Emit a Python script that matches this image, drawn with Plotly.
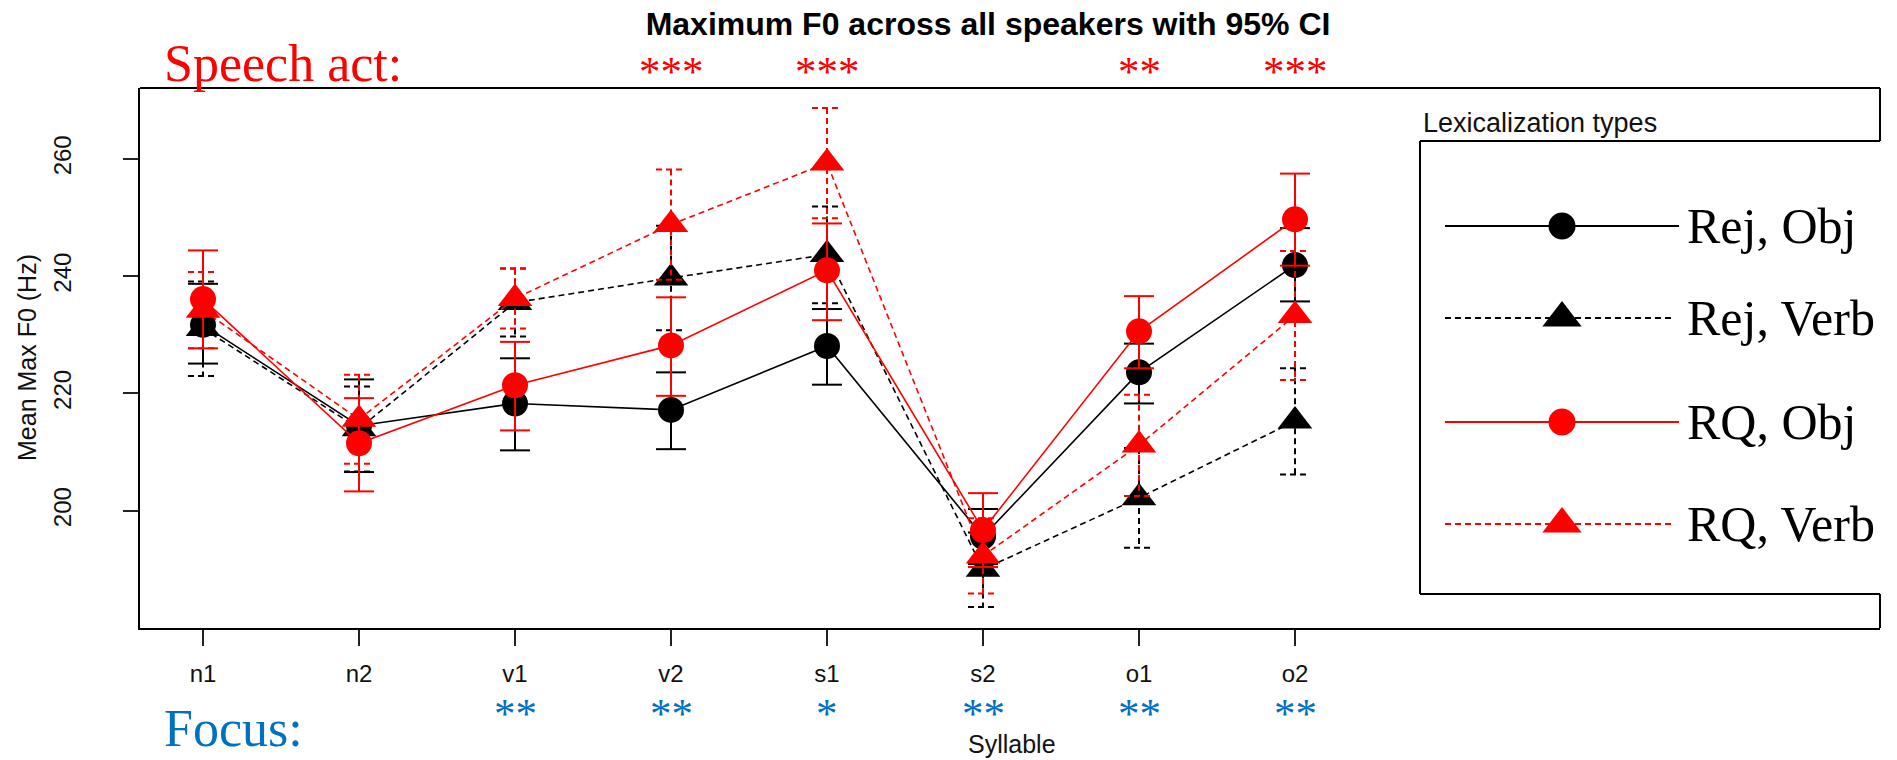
import plotly.graph_objects as go

# ---------------- data ----------------
syllables = ["n1", "n2", "v1", "v2", "s1", "s2", "o1", "o2"]
series_names = ["Rej, Obj", "Rej, Verb", "RQ, Obj", "RQ, Verb"]

rej_obj_mean = [231.7, 214.5, 218.3, 217.2, 228.1, 195.6, 223.6, 241.9]
rej_obj_lo = [225.1, 206.6, 210.3, 210.5, 221.5, 190.9, 218.3, 235.7]
rej_obj_hi = [238.7, 222.4, 226.0, 223.6, 234.4, 200.3, 228.5, 248.2]

rej_verb_mean = [231.1, 214.0, 235.5, 239.7, 243.7, 190.0, 202.2, 215.3]
rej_verb_lo = [223.0, 206.7, 229.7, 230.8, 235.4, 183.6, 193.7, 206.2]
rej_verb_hi = [239.1, 221.2, 241.3, 248.6, 251.9, 196.3, 210.7, 224.3]

rq_obj_mean = [236.1, 211.5, 221.4, 228.2, 241.0, 196.7, 230.6, 249.7]
rq_obj_lo = [227.7, 203.3, 213.7, 219.6, 232.5, 190.4, 224.3, 241.8]
rq_obj_hi = [244.4, 219.2, 228.8, 236.4, 249.0, 203.0, 236.6, 257.5]

rq_verb_mean = [234.2, 215.6, 236.2, 248.8, 259.3, 192.3, 211.2, 233.3]
rq_verb_lo = [227.7, 208.0, 231.1, 239.4, 249.9, 185.9, 202.5, 222.3]
rq_verb_hi = [240.7, 223.2, 241.3, 258.2, 268.7, 198.7, 219.8, 244.3]

y_ticks = [200, 220, 240, 260]
speech_act_stars = ["", "", "", "***", "***", "", "**", "***"]
focus_stars = ["", "", "**", "**", "*", "**", "**", "**"]

# ---------------- layout geometry (pixels) ----------------
W, H = 1897, 760
L, R, T, B = 140, 1880, 88, 628
TICK_STEP = 156.0
FIRST_TICK = 203
x_lo = 1 - (FIRST_TICK - L) / TICK_STEP
x_hi = x_lo + (R - L) / TICK_STEP
y_range = [180.0, 272.1]


def px(x):
    return (x - L) / (R - L)


def py(y):
    return (B - y) / (B - T)


SANS = "Liberation Sans, Arial, sans-serif"
SERIF = "Liberation Serif, Times New Roman, serif"
RED = "#FF0000"
BLUE = "#0070C0"

x_pos = list(range(1, len(syllables) + 1))
cap_hw = 15 / TICK_STEP


def errbar_xy(xs, lo, hi, hw):
    X, Y = [], []
    for x, l, h in zip(xs, lo, hi):
        X += [x - hw, x + hw, None, x, x, None, x - hw, x + hw, None]
        Y += [h, h, None, h, l, None, l, l, None]
    return X, Y


series = [
    dict(name="Rej, Obj", mean=rej_obj_mean, lo=rej_obj_lo, hi=rej_obj_hi,
         color="black", dash="solid", symbol="circle", size=26),
    dict(name="Rej, Verb", mean=rej_verb_mean, lo=rej_verb_lo, hi=rej_verb_hi,
         color="black", dash="6px,4px", symbol="triangle-up", size=30),
    dict(name="RQ, Verb", mean=rq_verb_mean, lo=rq_verb_lo, hi=rq_verb_hi,
         color=RED, dash="6px,4px", symbol="triangle-up", size=30),
    dict(name="RQ, Obj", mean=rq_obj_mean, lo=rq_obj_lo, hi=rq_obj_hi,
         color=RED, dash="solid", symbol="circle", size=26),
]

fig = go.Figure()

for s in series:
    ex, ey = errbar_xy(x_pos, s["lo"], s["hi"], cap_hw)
    fig.add_trace(go.Scatter(
        x=ex, y=ey, mode="lines", showlegend=False, hoverinfo="skip",
        line=dict(color=s["color"], width=2, dash=s["dash"])))
    fig.add_trace(go.Scatter(
        x=x_pos, y=s["mean"], mode="lines+markers", name=s["name"], showlegend=False,
        line=dict(color=s["color"], width=1.6, dash=s["dash"]),
        marker=dict(symbol=s["symbol"], size=s["size"], color=s["color"], line=dict(width=0))))

# ---------------- legend drawn on an overlay axis in pixel units ----------------
legend_order = ["Rej, Obj", "Rej, Verb", "RQ, Obj", "RQ, Verb"]
legend_rows_y = [226, 318, 422, 524]
style = {s["name"]: s for s in series}
for name, ly in zip(legend_order, legend_rows_y):
    s = style[name]
    x_end = 1679 if s["dash"] == "solid" else 1673
    fig.add_trace(go.Scatter(
        x=[1445, x_end], y=[ly, ly], mode="lines", xaxis="x2", yaxis="y2",
        showlegend=False, hoverinfo="skip",
        line=dict(color=s["color"], width=2, dash=s["dash"])))
    fig.add_trace(go.Scatter(
        x=[1562], y=[ly], mode="markers", xaxis="x2", yaxis="y2",
        showlegend=False, hoverinfo="skip",
        marker=dict(symbol=s["symbol"], size=27 if s["symbol"] == "circle" else 34,
                    color=s["color"], line=dict(width=0))))

annotations = []
for name, ly in zip(legend_order, legend_rows_y):
    annotations.append(dict(
        x=px(1685), y=py(ly), xref="paper", yref="paper", xanchor="left", yanchor="middle",
        text=name, showarrow=False, font=dict(family=SERIF, size=50, color="black")))

annotations.append(dict(
    x=px(1421), y=py(123), xref="paper", yref="paper", xanchor="left", yanchor="middle",
    text="Lexicalization types", showarrow=False, font=dict(family=SANS, size=27, color="#111")))

# significance stars
for xi, st in zip(x_pos, speech_act_stars):
    if st:
        annotations.append(dict(x=xi, y=py(71), xref="x", yref="paper", xanchor="center",
                                yanchor="middle", text=st, showarrow=False,
                                font=dict(family=SERIF, size=43, color=RED)))
for xi, st in zip(x_pos, focus_stars):
    if st:
        annotations.append(dict(x=xi, y=py(713), xref="x", yref="paper", xanchor="center",
                                yanchor="middle", text=st, showarrow=False,
                                font=dict(family=SERIF, size=43, color=BLUE)))

annotations.append(dict(x=px(162), y=py(64), xref="paper", yref="paper", xanchor="left",
                        yanchor="middle", text="Speech act:", showarrow=False,
                        font=dict(family=SERIF, size=52, color=RED)))
annotations.append(dict(x=px(162), y=py(728), xref="paper", yref="paper", xanchor="left",
                        yanchor="middle", text="Focus:", showarrow=False,
                        font=dict(family=SERIF, size=52, color=BLUE)))

# axis titles
annotations.append(dict(x=px(1012), y=py(744), xref="paper", yref="paper", xanchor="center",
                        yanchor="middle", text="Syllable", showarrow=False,
                        font=dict(family=SANS, size=25, color="#111")))
annotations.append(dict(x=px(27), y=py(358), xref="paper", yref="paper", xanchor="center",
                        yanchor="middle", text="Mean Max F0 (Hz)", showarrow=False, textangle=-90,
                        font=dict(family=SANS, size=25, color="#111")))

# frame pieces (plot box top/right and legend box)
LEG_L, LEG_T, LEG_B = 1420, 141, 594
frame = dict(color="black", width=2)
shapes = [
    dict(type="line", xref="paper", yref="paper", x0=0, x1=1, y0=1, y1=1, line=frame),
    dict(type="line", xref="paper", yref="paper", x0=1, x1=1, y0=py(T), y1=py(LEG_T), line=frame),
    dict(type="line", xref="paper", yref="paper", x0=1, x1=1, y0=py(LEG_B), y1=py(B), line=frame),
    dict(type="line", xref="paper", yref="paper", x0=px(LEG_L), x1=1, y0=py(LEG_T), y1=py(LEG_T), line=frame),
    dict(type="line", xref="paper", yref="paper", x0=px(LEG_L), x1=px(LEG_L), y0=py(LEG_T), y1=py(LEG_B), line=frame),
    dict(type="line", xref="paper", yref="paper", x0=px(LEG_L), x1=1, y0=py(LEG_B), y1=py(LEG_B), line=frame),
]

fig.update_layout(
    width=W, height=H, autosize=False,
    margin=dict(l=L, r=W - R, t=T, b=H - B, pad=0, autoexpand=False),
    paper_bgcolor="white", plot_bgcolor="white",
    title=dict(text="<b>Maximum F0 across all speakers with 95% CI</b>",
               x=px(988), xref="paper", xanchor="center",
               y=1 - 24 / H, yref="container", yanchor="middle",
               font=dict(family=SANS, size=32, color="black")),
    xaxis=dict(range=[x_lo, x_hi], tickvals=x_pos, ticktext=syllables, automargin=False,
               showgrid=False, zeroline=False, showline=True, linecolor="black", linewidth=2,
               ticks="outside", ticklen=16, tickwidth=1.5, tickcolor="#222",
               tickfont=dict(family=SANS, size=24, color="#111"), ticklabelstandoff=7),
    yaxis=dict(range=y_range, tickvals=y_ticks, showgrid=False, zeroline=False, automargin=False,
               showline=True, linecolor="black", linewidth=2,
               ticks="outside", ticklen=15, tickwidth=1.5, tickcolor="#222", tickangle=-90,
               tickfont=dict(family=SANS, size=24, color="#111"), ticklabelstandoff=42),
    xaxis2=dict(domain=[0, 1], range=[L, R], overlaying="x", anchor="y2", visible=False,
                automargin=False),
    yaxis2=dict(domain=[0, 1], range=[B, T], overlaying="y", anchor="x2", visible=False,
                automargin=False),
    annotations=annotations,
    shapes=shapes,
    showlegend=False,
)

fig.write_html(
    "out.html",
    config={"displayModeBar": False},
    post_script="document.body.style.margin='0';document.body.style.overflow='hidden';",
)
